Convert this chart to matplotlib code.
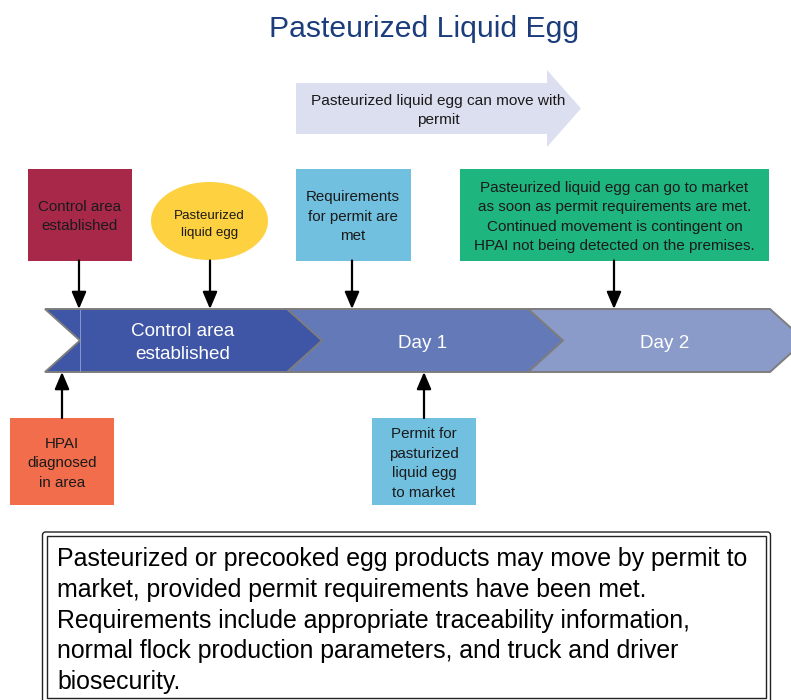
import matplotlib.pyplot as plt
from matplotlib.patches import Polygon, Rectangle, Ellipse, FancyBboxPatch

plt.rcParams['font.family'] = ['Liberation Sans', 'DejaVu Sans']

# texts of the diagram
title = "Pasteurized Liquid Egg"
move_label = ["Pasteurized liquid egg can move with", "permit"]
phase_labels = [["Control area", "established"], ["Day 1"], ["Day 2"]]
above_labels = [
    ["Control area", "established"],
    ["Pasteurized", "liquid egg"],
    ["Requirements", "for permit are", "met"],
    ["Pasteurized liquid egg can go to market",
     "as soon as permit requirements are met.",
     "Continued movement is contingent on",
     "HPAI not being detected on the premises."],
]
below_labels = [
    ["HPAI", "diagnosed", "in area"],
    ["Permit for", "pasturized", "liquid egg", "to market"],
]
note_lines = [
    "Pasteurized or precooked egg products may move by permit to",
    "market, provided permit requirements have been met.",
    "Requirements include appropriate traceability information,",
    "normal flock production parameters, and truck and driver",
    "biosecurity.",
]

fig = plt.figure(figsize=(7.91, 7.0), dpi=100)
ax = fig.add_axes([0, 0, 1, 1])
ax.set_xlim(0, 791)
ax.set_ylim(700, 0)
ax.axis('off')


def put_lines(x, yc, lines, size, dy, color='#1a1a1a'):
    # size in points, positions in pixels
    px = size / 0.72
    n = len(lines)
    for i, s in enumerate(lines):
        yb = yc + (i - (n - 1) / 2) * dy + 0.36 * px
        ax.text(x, yb, s, ha='center', va='baseline', fontsize=size, color=color)


# title
ax.text(424, 37, title, ha='center', va='baseline', fontsize=21.7, color='#1c3d7c')

# big light arrow
arrow_pts = [(296, 83), (547, 83), (547, 70), (581, 108.5), (547, 147), (547, 134), (296, 134)]
ax.add_patch(Polygon(arrow_pts, closed=True, facecolor='#dcdfef', edgecolor='none'))
put_lines(438, 109, move_label, 11.1, 19.5)

# timeline chevrons
seg_colors = ['#3f55a6', '#6479b8', '#8b9bc9']
seg_x = [(45, 287), (287, 528), (528, 770)]
top, mid, bot, tip = 309, 340.5, 372, 35
for i, ((x0, x1), c) in enumerate(zip(seg_x, seg_colors)):
    notch = 80 if i == 0 else x0 + tip - 2
    pts = [(x0, top), (x1, top), (x1 + tip, mid), (x1, bot), (x0, bot), (notch, mid)]
    ax.add_patch(Polygon(pts, closed=True, facecolor=c, edgecolor='#7d7d7d', lw=1.4,
                         zorder=3 - i * 0.1))
ax.plot([80, 80], [top + 1, bot - 1], color='#8a98cf', lw=0.7, zorder=4)
put_lines(183, 341, phase_labels[0], 13.6, 23, color='white')
put_lines(423, 341, phase_labels[1], 13.6, 23, color='white')
put_lines(665, 341, phase_labels[2], 13.6, 23, color='white')

# boxes above timeline
ax.add_patch(Rectangle((28, 169), 104, 91.5, facecolor='#a8284a', edgecolor='none'))
put_lines(80, 215, above_labels[0], 10.9, 19.5)
ax.add_patch(Ellipse((209.5, 221), 117, 78, facecolor='#fdd13f', edgecolor='none'))
put_lines(209.5, 222.5, above_labels[1], 9.6, 17)
ax.add_patch(Rectangle((296, 169), 115, 91.5, facecolor='#71c0e0', edgecolor='none'))
put_lines(353, 215.5, above_labels[2], 10.9, 19.5)
ax.add_patch(Rectangle((460, 169), 309, 91.5, facecolor='#1fb57e', edgecolor='none'))
put_lines(614.5, 215.5, above_labels[3], 11.0, 19.6)

# boxes below timeline
ax.add_patch(Rectangle((10, 418), 104, 87, facecolor='#f26d4b', edgecolor='none'))
put_lines(62, 462, below_labels[0], 10.9, 19.5)
ax.add_patch(Rectangle((372, 418), 104, 87, facecolor='#71c0e0', edgecolor='none'))
put_lines(424, 462, below_labels[1], 10.9, 19.5)

# connector arrows
aprops = dict(arrowstyle='-|>,head_length=0.47,head_width=0.2', color='black', lw=1.6,
              mutation_scale=22, shrinkA=0, shrinkB=0)
for x in [79, 210, 352, 614]:
    ax.annotate('', xy=(x, 309), xytext=(x, 260.5), arrowprops=aprops, zorder=5)
for x in [62, 424]:
    ax.annotate('', xy=(x, 372), xytext=(x, 418), arrowprops=aprops, zorder=5)

# note box with double border
ax.add_patch(FancyBboxPatch((42.5, 532), 728, 190, boxstyle='round,pad=0,rounding_size=3',
                            facecolor='white', edgecolor='#222222', lw=1.0))
ax.add_patch(Rectangle((46.5, 536), 719, 162, facecolor='none', edgecolor='#222222', lw=1.0))
for i, s in enumerate(note_lines):
    ax.text(57, 566 + i * 30.8, s, ha='left', va='baseline', fontsize=17.9, color='black')

fig.savefig('out.png', dpi=100)
